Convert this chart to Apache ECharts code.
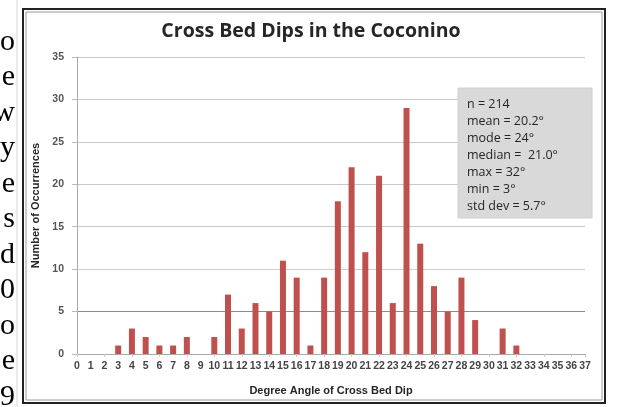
<!DOCTYPE html>
<html>
<head>
<meta charset="utf-8">
<script src="https://cdn.jsdelivr.net/npm/echarts@6/dist/echarts.min.js"></script>
<style>
html,body{margin:0;padding:0;background:#fff;}
#chart{width:622px;height:407px;}
</style>
</head>
<body>
<div id="chart"></div>
<script>
var chartTitle = 'Cross Bed Dips in the Coconino';
var xAxisTitle = 'Degree Angle of Cross Bed Dip';
var yAxisTitle = 'Number of Occurrences';
var categories = ['0','1','2','3','4','5','6','7','8','9','10','11','12','13','14','15','16','17','18','19','20','21','22','23','24','25','26','27','28','29','30','31','32','33','34','35','36','37'];
var counts = [0,0,0,1,3,2,1,1,2,0,2,7,3,6,5,11,9,1,9,18,22,12,21,6,29,13,8,5,9,4,0,3,1,0,0,0,0,0];
var statsLines = ['n = 214','mean = 20.2°','mode = 24°','median =  21.0°','max = 32°','min = 3°','std dev = 5.7°'];
var docLetters = ['o','e','w','y','e','s','d','0','o','e','9','s'];

var chart = echarts.init(document.getElementById('chart'), null, {renderer:'canvas'});

var graphics = [];
graphics.push({type:'line', shape:{x1:17,y1:0,x2:17,y2:407}, style:{stroke:'#d8d8d8', lineWidth:1}, z:1});
graphics.push({type:'rect', shape:{x:23,y:9,width:582,height:394}, style:{fill:null, stroke:'#222', lineWidth:2}, z:1});
graphics.push({type:'rect', shape:{x:26,y:12,width:576,height:388}, style:{fill:null, stroke:'#9a9a9a', lineWidth:1}, z:1});
docLetters.forEach(function(ch, i){
  graphics.push({type:'text', x:15, y:27 + i*35.5, style:{text:ch, font:'30px "Liberation Serif"', fill:'#000', align:'right', verticalAlign:'alphabetic'}, z:2});
});
graphics.push({type:'rect', shape:{x:458,y:88,width:134,height:130}, style:{fill:'#d9d9d9', stroke:'#d0d0d0'}, z:20});
statsLines.forEach(function(t, i){
  graphics.push({type:'text', x:467, y:104 + i*17, style:{text:t, font:'12.5px "Open Sans"', fill:'#262626', align:'left', verticalAlign:'middle'}, z:21});
});

chart.setOption({
  animation:false,
  title:{text:chartTitle, left:'center', top:16, textStyle:{fontFamily:'Open Sans', fontWeight:'bold', fontSize:19.5, color:'#262626'}},
  grid:{left:77, right:37, top:57, bottom:53},
  xAxis:{
    type:'category', data:categories, boundaryGap:false,
    name:xAxisTitle, nameLocation:'middle', nameGap:31,
    nameTextStyle:{fontFamily:'Liberation Sans', fontWeight:'bold', fontSize:11, color:'#262626'},
    axisLine:{lineStyle:{color:'#aaa'}},
    axisTick:{show:true, interval:1, length:3, lineStyle:{color:'#ccc'}},
    axisLabel:{interval:0, margin:7, fontFamily:'Liberation Sans', fontWeight:'bold', fontSize:10.5, color:'#444'},
    splitLine:{show:false}
  },
  yAxis:{
    type:'value', min:0, max:35, interval:5,
    name:yAxisTitle, nameLocation:'middle', nameGap:30,
    nameTextStyle:{fontFamily:'Liberation Sans', fontWeight:'bold', fontSize:11, color:'#262626'},
    axisLine:{show:true, lineStyle:{color:'#aaa'}},
    axisTick:{show:true, length:5, lineStyle:{color:'#bbb'}},
    axisLabel:{margin:13, fontFamily:'Liberation Sans', fontWeight:'bold', fontSize:10.5, color:'#555'},
    splitLine:{show:true, lineStyle:{color:['#c8c8c8','#8c8c8c','#cfcfcf','#c8c8c8','#c8c8c8','#c8c8c8','#c8c8c8','#c8c8c8'], width:1.2}}
  },
  series:[{
    type:'bar', data:counts, barWidth:6,
    itemStyle:{color:'#c0504d', borderWidth:0}
  }],
  graphic:graphics
});
</script>
</body>
</html>
